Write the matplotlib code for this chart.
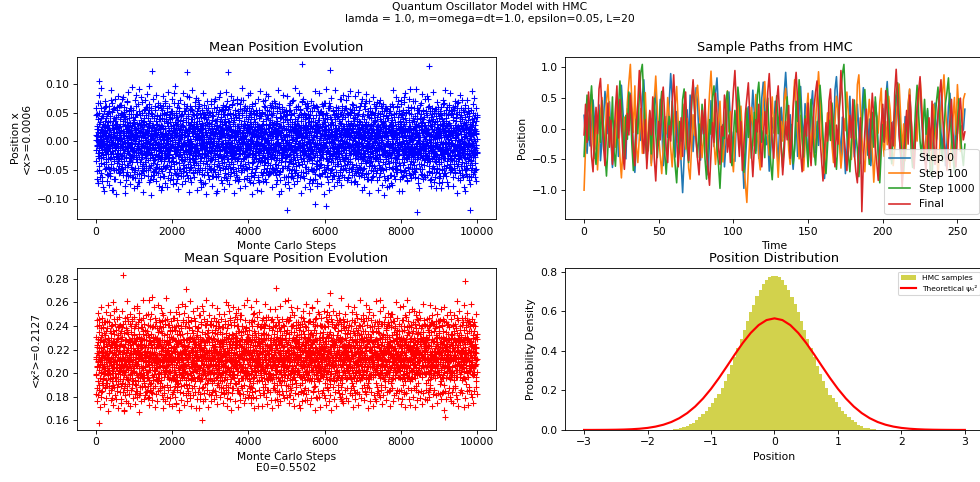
import numpy as np
import matplotlib
matplotlib.use("Agg")
import matplotlib.pyplot as plt

# Mean position per sweep (in units of 1e-3)
MEAN_X = [
    12,-34,45,-8,27,-51,3,66,-19,38,-72,21,-5,49,-28,104,-43,15,-61,33,8,-24,57,-37,2,41,-15,-68,25,-3,
    -18,31,-6,44,-27,9,52,-39,16,-2,27,-48,35,-13,60,-22,4,-35,41,-9,19,-56,28,-15,47,-31,11,-44,23,-1,
    -47,19,62,-11,36,-29,7,-55,44,-21,13,71,-39,28,-6,-83,51,-17,9,35,-46,23,-2,58,-31,16,-64,40,-10,29,
    36,-12,21,-50,8,43,-25,14,-37,55,-4,30,-19,46,-33,2,61,-28,17,-42,25,-8,39,-53,12,-21,50,-30,6,-45,
    5,-38,47,-25,73,-14,31,-52,18,-7,42,-33,60,-20,11,-77,26,-44,39,-1,54,-27,14,-58,34,-12,68,-41,22,-9,
    10,-41,26,-16,53,-34,7,40,-23,15,-58,32,-10,48,-29,20,-3,57,-36,13,-47,29,-14,42,-26,5,-62,34,-18,24,
    37,-16,-49,24,6,-63,43,-30,17,81,-23,48,-36,10,-56,30,-4,65,-45,20,-13,52,-26,1,-70,32,-18,46,-35,15,
    -30,18,-55,37,-7,25,-43,11,49,-20,33,-6,-38,22,-51,40,-12,28,-45,8,56,-24,16,-35,3,45,-17,31,-49,19,
    -22,59,-8,27,-50,40,-32,12,96,-43,25,-15,55,-29,4,-67,36,-11,50,-40,18,-59,29,-6,44,-24,121,-37,9,-53,
    28,-9,41,-32,14,-58,23,-1,54,-27,10,-44,36,-15,21,-52,44,-6,30,-39,12,-23,59,-31,17,-11,38,-46,26,-4,
    21,-14,63,-28,39,-48,13,-3,57,-34,26,-79,41,-19,8,61,-42,23,-10,47,-31,2,-60,35,-17,70,-26,14,-45,38,
    -11,46,-24,5,-40,32,-17,51,-29,8,-63,27,-5,43,-34,18,-21,39,-48,11,33,-14,-42,24,-9,52,-36,15,-27,41,
    -5,52,-33,19,-65,28,-12,45,-39,7,84,-21,33,-54,16,-1,49,-36,24,-71,42,-15,11,-47,30,-8,66,-25,37,-57,
    19,-37,9,-22,58,-13,35,-47,21,-3,44,-31,13,-55,29,-8,48,-26,7,-40,37,-18,26,-60,16,-2,53,-33,20,-14,
    17,-30,53,-6,41,-44,20,-18,62,-27,120,-58,34,-13,47,-38,3,76,-22,28,-50,14,-35,55,-9,23,-63,39,-16,31,
    -44,14,-29,38,-4,55,-20,27,-52,10,-35,45,-16,24,-41,34,-7,62,-30,18,-12,46,-37,8,-25,40,-53,21,-6,30,
    -41,10,58,-24,35,-52,18,-2,64,-33,27,-46,6,50,-28,15,-69,43,-11,32,-56,21,-4,48,-37,12,-74,29,-19,40,
    7,-26,47,-12,23,-45,16,-34,39,-1,58,-23,30,-15,51,-38,12,-28,43,-19,5,-57,32,-9,26,-43,17,-3,50,-32,
    4,-45,30,-15,69,-32,22,-60,37,-7,51,-26,13,-49,44,-20,1,57,-39,26,-12,73,-30,16,-53,36,-3,-88,24,-42,
    -21,39,-14,29,-60,20,-8,47,-33,13,-24,54,-41,6,35,-17,25,-50,9,42,-29,18,-4,56,-37,23,-13,33,-46,11,
    -27,48,-9,33,-61,19,-36,54,-14,7,-48,39,-23,61,-5,28,-42,12,-67,45,-18,35,-1,-56,120,-31,22,-10,59,-38,
    33,-7,-46,21,-19,50,-35,12,-25,41,-10,63,-28,17,-3,-44,30,-16,48,-38,10,-22,37,-54,19,-8,45,-30,26,-15,
    14,-20,43,-51,26,-7,67,-34,18,-45,3,52,-29,37,-13,-64,41,-22,9,56,-40,20,-15,71,-33,6,-50,31,-2,46,
    -5,49,-31,15,-42,26,-11,57,-21,4,-50,36,-18,28,-39,9,53,-26,20,-12,42,-47,14,-2,31,-59,24,-10,38,-23,
    -36,25,-11,58,-44,16,-70,34,-19,49,-8,27,-55,13,42,-26,64,-37,1,-48,30,-12,53,-21,10,-62,38,-30,19,-4,
    25,-16,34,-53,11,-30,46,-8,22,-43,31,-1,50,-34,16,-20,-67,27,-13,40,-28,7,55,-36,21,-15,44,-4,-32,17,
    44,-17,29,-58,8,-33,50,-23,15,-68,36,-6,61,-41,22,-14,47,-35,5,72,-27,17,-52,39,-10,28,-45,55,-20,3,
    -37,23,-3,41,-26,13,-56,30,-15,52,-22,9,-40,37,-11,59,-31,18,-6,46,-45,15,-24,33,-52,10,28,-18,49,-28,
    -49,32,-13,21,-38,66,-24,9,-57,43,-2,30,-46,18,-66,35,-29,52,-8,24,-40,14,60,-32,-91,26,-18,41,-51,11,
    15,-52,27,-10,43,-36,5,-19,56,-29,20,-46,11,34,-24,44,-9,-61,23,-17,51,-33,8,-42,38,-6,-27,54,-14,22,
    -118,37,-25,48,-3,-59,22,-43,31,-12,63,-35,16,-50,27,-7,54,-21,39,-62,11,-30,46,-15,33,-47,2,69,-37,20,
    -26,8,-38,49,-17,31,-49,18,-7,39,-55,24,-32,60,-13,27,-43,6,36,-23,14,-58,42,-11,29,-35,17,-3,46,-40,
    27,-41,13,-24,56,-9,35,-53,19,-31,45,-16,70,-39,8,133,-28,42,-60,15,-11,50,-34,23,-5,64,-44,29,-19,38,
    42,-20,16,-44,28,-4,58,-34,11,-27,47,-14,22,-51,33,-9,41,-30,15,-64,26,-1,53,-22,12,-48,35,-16,24,-37,
    -14,53,-32,7,-66,40,-20,26,-49,12,59,-27,34,-3,-56,21,-108,46,-38,18,-9,62,-43,30,-24,9,-71,37,-13,25,
    -13,37,-57,20,-32,45,-6,26,-41,14,-18,52,-38,9,-26,48,-15,31,-54,19,-8,40,-29,3,61,-44,21,-10,34,-50,
    41,-8,-52,33,17,-112,49,-29,22,-41,6,-60,38,-17,57,-34,13,-46,28,-1,67,-30,19,-54,43,-22,10,124,-36,31,
    22,-3,39,-28,10,-47,33,-21,55,-12,28,-36,4,45,-19,17,-59,38,-7,29,-42,13,-25,50,-16,6,-39,43,-30,9,
    -18,44,-39,24,-7,58,-27,15,-63,35,-12,48,-33,1,-50,30,-19,73,-42,20,-8,55,-26,39,-57,13,-3,46,-31,22,
    -34,26,-12,54,-40,17,-23,42,-5,-49,31,-15,58,-27,10,-38,24,-2,47,-33,20,-61,36,-10,27,-45,12,-20,56,-6,
    9,-35,51,-20,32,-48,16,-4,65,-38,24,-58,41,-10,29,-44,18,-69,36,-15,54,-28,7,-51,42,-21,60,-40,14,-6,
    11,-48,30,-17,39,-8,-53,22,-31,48,-13,35,-44,16,-4,62,-25,13,-46,34,-14,25,-37,7,44,-28,19,-55,31,-21,
    -30,23,-14,47,-45,11,-61,39,-26,6,56,-19,28,-54,34,-9,70,-37,21,-2,45,-32,17,-64,31,-13,52,-25,8,-43,
    -8,43,-25,12,-36,57,-18,29,-50,6,40,-33,20,-11,51,-41,27,-3,-59,22,-26,45,-9,33,-43,14,-30,49,-15,37,
    36,-11,61,-29,4,-50,27,-17,43,-66,19,-34,50,-6,25,-41,12,66,-23,38,-55,15,-30,48,-12,35,-48,22,-1,57,
    30,-22,8,-46,25,-14,44,-35,15,-59,28,-7,53,-24,12,-39,36,-17,58,-30,9,-48,26,-2,40,-20,-63,18,-33,5,
    -25,40,-44,18,-15,53,-37,29,-8,62,-21,11,-57,33,-28,46,-4,-75,37,-19,26,-47,9,59,-36,20,-16,43,-59,14,
    -45,16,-35,33,-9,49,-28,4,-42,24,-20,60,-31,11,-53,31,-6,42,-24,16,-37,53,-13,21,-50,35,-5,27,-41,46,
    31,-53,22,-3,47,-30,10,-62,38,-14,27,-41,55,-24,16,-8,68,-35,23,-49,40,-18,2,-58,34,-11,49,-27,18,-67,
    18,-31,54,-4,21,-44,10,-27,37,-16,50,-39,8,-58,26,-12,47,-34,19,-9,60,-22,33,-47,5,-18,41,-36,14,-26,
    -9,36,-23,58,-40,13,-52,26,-19,44,-5,31,-45,20,-12,-121,39,-31,50,-16,8,-63,29,-26,54,-38,15,-2,41,-48,
    -24,40,-11,27,-56,19,-38,48,-2,33,-28,15,-47,39,-20,54,-15,26,-40,8,-32,43,-19,17,-61,29,-7,52,-23,10,
    24,-12,45,-36,19,-57,33,-7,60,-28,14,-43,130,-20,37,-51,11,-33,52,-10,27,-65,43,-15,5,58,-30,21,-46,35,
    38,-6,-43,17,-25,52,-16,31,-48,9,-33,56,-21,4,-36,44,-27,12,-52,35,-10,25,-45,14,49,-30,23,-12,40,-55,
    -39,17,-26,53,-4,30,-59,22,-14,46,-35,8,-70,39,-21,28,-47,15,64,-29,36,-9,50,-42,19,-18,32,-55,11,-1,
    -17,29,-60,36,-13,41,-34,7,-21,59,-40,18,-5,46,-29,20,-44,32,-8,54,-25,11,-38,28,-14,47,-31,3,-49,24,
    49,-32,12,-47,37,-16,24,-61,43,-8,55,-25,18,-38,61,-13,29,-52,6,41,-34,20,-11,67,-43,25,-6,48,-28,13,
    27,-39,15,-30,51,-7,24,-54,35,-19,43,-11,29,-42,13,-26,57,-18,38,-50,4,-35,21,-13,55,-24,8,-43,32,-10,
    -16,42,-50,28,-2,63,-37,10,-56,34,-21,47,-13,25,-45,16,-30,58,-8,37,-60,22,-27,44,-5,-119,31,-41,19,-33,
    -32,20,-50,11,-19,38,-41,25,-3,49,-27,16,-56,33,-9,40,-23,5,-37,46,-15,29,-62,18,-6,36,-48,13,-20,42,
]

# More sweeps of the same run, the dense core of the cloud (1e-3)
MEAN_X_CORE = [
    3,-14,22,-6,9,-25,17,0,-11,31,-19,5,-2,14,-29,8,20,-9,-1,12,
    -7,18,-23,4,27,-13,-3,10,-18,25,6,-30,15,-5,1,-16,33,-10,7,-21,
    11,-4,24,-17,-8,19,2,-27,13,-1,28,-12,6,-22,16,-6,-34,9,21,-3,
    -15,7,-26,30,-9,3,14,-19,-2,23,-11,8,-31,17,0,26,-14,4,-7,18,
    20,-10,1,-24,12,36,-5,15,-20,6,-13,29,-3,9,-28,21,-8,2,-16,11,
    -1,16,-12,25,-6,-21,8,-33,18,3,-9,14,-25,27,-4,10,-17,32,-11,5,
    8,-23,13,-2,19,-15,4,22,-8,-30,12,-5,24,-19,7,-12,1,28,-14,16,
    -19,2,30,-11,14,-7,-26,10,-3,21,-16,35,-9,6,-22,13,-1,-29,17,-4,
    14,-8,-20,26,1,-13,18,-5,32,-24,9,-2,15,-18,4,23,-10,11,-27,6,
    -5,25,-14,3,-31,20,-9,12,-1,17,-22,7,-6,29,-12,-3,19,-16,8,-25,
    17,-12,5,-19,28,-4,-15,9,-27,13,2,-8,22,-20,10,-33,15,-6,24,-2,
    -9,13,-21,8,-3,34,-17,6,15,-11,-24,19,-5,1,-14,26,-7,12,-29,3,
    6,-28,18,-7,11,-16,24,-1,-12,20,-4,31,-22,9,-9,14,-18,2,27,-13,
    -24,10,-3,21,-18,4,-10,27,7,-32,16,-6,12,-15,25,-2,8,-21,-5,19,
    12,-5,-17,33,-8,15,-26,3,-14,22,-1,10,-30,18,-7,5,-20,29,-10,1,
    -2,21,-11,-4,16,-23,9,-35,25,-8,13,-18,4,-12,30,-6,-25,14,2,-16,
    24,-15,7,-20,3,12,-6,19,-29,10,-2,27,-13,5,-21,17,-9,-1,23,-7,
    -13,4,28,-9,-22,17,-3,11,-16,33,-10,1,20,-25,8,-14,26,-4,12,-18,
    5,-20,15,-1,24,-12,-30,6,18,-7,-17,13,-3,36,-11,9,-23,16,-8,21,
    -16,9,-6,19,-27,1,14,-10,4,-21,26,-14,8,-4,17,-28,11,-2,30,-9,
    19,-3,-25,11,-14,29,-7,2,-19,15,-9,-31,21,-5,13,-1,24,-17,6,-11,
    -8,27,-13,6,-2,-18,22,-24,9,-6,18,-11,33,-15,3,-26,12,7,-20,14,
    2,-17,10,-30,20,-5,13,-9,26,-14,-1,23,-7,16,-22,4,-12,31,-3,8,
    -20,14,-1,17,-11,8,-28,24,-4,11,-16,5,-25,19,-6,28,-15,1,-10,22,
    15,-9,25,-22,5,-14,-4,30,-12,2,21,-19,7,-35,14,-3,18,-8,9,-24,
    -4,22,-16,1,-29,13,7,-6,20,-18,10,-2,27,-12,-23,15,-5,-17,24,4,
    10,-26,4,18,-7,-20,31,-11,-3,14,-28,16,-9,6,21,-14,2,-31,13,-1,
    -12,6,-19,23,-2,16,-13,-25,11,28,-6,-15,3,-21,9,25,-10,17,-4,-27,
    22,-11,13,-4,-17,9,-32,20,-7,5,-23,32,-14,11,-1,-19,16,-6,27,-9,
    -6,17,-28,12,4,-15,19,-3,-21,26,-9,7,-18,24,-12,2,-26,20,-2,13,
    9,-21,2,27,-13,-5,16,-24,12,-1,20,-10,-34,18,-6,11,-15,4,25,-18,
    -17,5,-9,21,-26,14,-3,30,-14,8,-20,1,19,-11,-27,23,-4,13,-8,16,
    13,-2,19,-15,7,-30,25,-8,3,-18,29,-6,-12,15,-22,6,-1,21,-16,10,
    -23,16,-5,8,-12,24,-19,1,33,-9,12,-25,4,-3,18,-14,27,-7,-29,2,
    4,-13,26,-19,-1,11,-8,17,-24,21,-4,9,-16,28,-10,-33,14,-2,20,-12,
    -10,23,-17,3,15,-27,6,-14,10,-5,25,-21,13,-1,-8,31,-18,9,-6,18,
    26,-7,11,-22,-3,19,-12,4,-30,16,-15,22,-2,-19,7,12,-25,29,-11,1,
    -1,12,-24,16,-9,-2,28,-16,7,-12,3,-28,18,-5,24,-20,10,-13,15,-7,
    18,-19,3,-11,23,-6,-21,13,-4,32,-17,8,-9,20,-26,2,-14,26,-3,11,
    -14,1,20,-28,9,-10,15,-1,-23,7,17,-4,-31,13,-7,22,-12,5,-19,29,
    7,-30,14,-8,-17,26,-5,21,-13,3,-22,11,6,-16,27,-9,1,-24,17,-2,
    -22,15,-4,29,-10,6,-18,-1,24,-14,9,-27,19,-3,12,-20,31,-8,4,-15,
    16,-6,-25,10,2,-20,12,-33,18,-7,27,-12,1,22,-17,8,-5,14,-28,20,
    -3,26,-12,5,-21,17,-9,23,-2,-16,11,-6,30,-19,4,-11,16,-24,9,-1,
    21,-14,8,-27,13,-3,-15,6,29,-10,-2,18,-21,10,-31,25,-7,3,-13,15,
    -11,3,-22,18,-5,33,-14,9,-19,12,-8,24,-4,-26,16,-2,11,-18,22,-6,
    1,-18,27,-10,-4,14,-23,16,-7,-29,21,-12,5,17,-15,28,-3,8,-20,12,
    -26,11,-2,15,-14,20,-6,-31,13,4,-10,26,-17,7,-1,-21,19,-9,34,-5,
    14,-4,22,-16,8,-24,1,18,-11,-3,30,-20,12,-7,23,-13,-28,6,-2,17,
    -9,19,-7,-21,26,-1,12,-15,3,24,-19,5,-27,16,-10,9,-4,21,-14,2,
    23,-16,6,10,-30,15,-8,27,-5,-13,17,-2,-22,11,3,-18,25,-11,7,-26,
    -5,8,-19,32,-12,-4,21,-9,14,-25,1,20,-13,-6,28,-16,5,-30,18,-3,
    10,-25,16,-3,-8,22,-17,2,-28,12,-11,29,-1,9,-20,13,-6,-15,26,-10,
    -18,4,-13,20,-27,7,34,-10,-2,17,-21,-7,15,-24,6,-1,22,-12,11,-31,
    6,-10,29,-17,12,-1,-24,14,-9,21,-5,-16,26,-3,-19,18,-28,7,-4,23,
    -28,17,-3,9,-15,26,-11,5,-20,31,-7,13,-1,-23,10,-14,24,-5,16,-8,
    12,-2,-18,24,-6,11,-29,19,-14,2,16,-23,8,-10,35,-4,-17,12,-21,3,
    -7,21,-15,1,-25,18,-4,-12,27,-8,4,-19,22,-15,-2,29,-9,-26,13,-1,
    19,-13,9,-29,16,-5,23,-20,6,-10,-33,17,-3,14,-16,2,-24,10,-6,27,
    -15,5,-26,13,-8,28,-2,-17,11,-22,19,-9,1,-27,21,-6,15,-11,4,-18,
]

# More sweeps, the outer shoulders of the cloud (1e-3)
MEAN_X_WIDE = [
    58,-64,47,-72,81,-49,66,-55,92,-61,44,-78,53,-86,70,-46,61,-68,49,-57,
    -75,52,-60,88,-45,67,-83,56,-50,74,-65,43,-91,59,-48,79,-54,63,-70,45,
    63,-47,76,-58,51,-89,44,-66,69,-52,85,-60,48,-73,57,-44,94,-62,55,-80,
    -53,71,-46,62,-77,48,-69,90,-56,45,-63,77,-49,68,-87,54,-58,72,-43,60,
    82,-59,50,-70,64,-45,58,-93,47,-64,73,-51,62,-47,80,-68,45,-55,67,-76,
    -62,46,-84,55,-51,78,-60,49,-72,66,-44,57,-79,86,-53,61,-66,48,-58,74,
    49,-73,67,-48,95,-56,43,-65,60,-82,52,-47,71,-59,46,-74,83,-51,64,-45,
    -68,57,-52,79,-63,44,-87,61,-46,56,-70,89,-54,47,-61,68,-49,75,-84,53,
    72,-45,61,-66,48,-78,55,-50,84,-58,63,-72,45,-90,69,-53,57,-64,50,-47,
    -50,65,-77,46,-59,70,-48,73,-62,51,-85,60,-56,76,-44,83,-67,52,-71,63,
    60,-82,48,-54,86,-63,69,-45,56,-74,47,-60,79,-52,65,-48,72,-88,54,-66,
    -57,74,-61,50,-68,45,-80,64,-53,92,-49,71,-65,55,-76,61,-45,58,-63,81,
    45,-67,83,-59,53,-91,62,-72,48,-57,66,-46,54,-83,73,-61,50,-69,87,-52,
    -86,51,-55,69,-47,60,-64,82,-70,46,-58,78,-51,63,-54,47,-79,66,-48,57,
    70,-53,62,-73,57,-49,88,-56,64,-67,50,-85,60,-45,81,-62,53,-74,46,-61,
    -46,78,-69,52,-81,66,-54,47,-59,71,-63,49,-74,93,-50,56,-68,61,-57,84,
    54,-61,47,-88,68,-52,74,-63,45,-79,58,-55,67,-48,62,-71,46,-82,70,-50,
    -72,63,-50,57,-65,87,-47,59,-76,53,-46,84,-60,51,-73,64,-56,48,-90,67,
    66,-48,91,-62,46,-70,57,-84,61,-50,75,-64,52,-58,47,-77,89,-53,59,-69,
    -59,55,-66,74,-53,48,-75,62,-47,80,-61,58,-45,72,-66,50,-63,79,-52,46,
    87,-70,54,-47,63,-58,49,-68,78,-55,45,-73,86,-60,55,-49,67,-57,73,-84,
    -48,61,-79,66,-56,82,-64,45,-54,69,-88,52,-67,48,-62,77,-51,65,-46,58,
    57,-54,68,-83,50,-61,71,-46,62,-75,53,-49,64,-92,58,-66,45,-78,56,-63,
    -77,49,-58,53,-72,64,-45,88,-60,47,-65,76,-53,61,-47,70,-85,50,-64,72,
    64,-85,45,-60,76,-51,83,-57,51,-68,60,-45,73,-55,90,-63,58,-48,69,-56,
    -51,70,-62,91,-46,57,-71,54,-80,63,-48,67,-58,82,-64,52,-57,74,-62,49,
    79,-57,73,-52,61,-66,53,-76,47,-54,86,-69,50,-62,56,-81,68,-47,60,-71,
    -63,47,-81,60,-49,72,-59,66,-55,89,-45,54,-70,48,-77,63,-52,84,-46,55,
    52,-76,59,-45,70,-54,47,-88,57,-63,68,-50,80,-67,45,-58,72,-61,51,-79,
    -85,58,-48,71,-60,52,-67,49,-73,55,-62,87,-46,64,-53,75,-49,57,-68,46,
]

# Mean square position per sweep (in units of 1e-3), bottom-left cloud
MEAN_X2 = [
    214,198,231,205,222,187,240,209,193,226,217,181,235,158,219,246,190,211,228,196,207,238,184,221,213,200,232,192,215,243,
    211,196,227,205,218,190,234,208,222,199,215,243,187,229,202,217,236,194,212,225,200,238,206,219,192,230,213,203,226,209,
    203,226,189,217,236,195,210,249,199,224,186,212,230,204,241,193,218,179,227,208,236,197,214,253,188,222,205,233,196,211,
    197,224,208,237,193,216,204,229,188,221,210,246,199,214,232,191,219,207,240,202,223,195,212,234,205,218,189,227,211,236,
    229,192,216,201,239,184,223,206,283,213,168,234,198,220,187,244,207,225,191,211,228,176,218,203,237,195,214,248,189,226,
    220,203,233,195,214,227,191,209,242,206,217,198,228,212,186,235,204,221,196,230,208,244,200,216,225,193,211,238,202,219,
    206,233,194,219,182,227,212,242,200,216,190,229,208,255,185,221,197,238,210,193,224,204,231,181,217,246,199,214,227,188,
    206,230,199,215,239,204,222,189,213,228,196,233,210,203,247,198,216,229,192,211,237,205,219,188,224,215,201,232,209,197,
    219,201,236,189,213,250,196,222,207,180,231,215,194,227,203,240,186,218,209,233,192,224,265,205,217,183,239,211,197,228,
    231,194,218,207,225,199,212,240,203,216,189,229,205,221,197,214,238,209,226,193,210,235,199,223,212,245,196,217,206,228,
    192,225,209,243,186,215,201,236,219,194,228,207,251,189,222,203,214,178,239,197,226,210,188,232,216,245,199,221,204,213,
    202,225,210,233,190,219,206,228,215,197,241,208,220,195,231,211,202,226,188,236,214,200,222,209,194,231,217,205,239,212,
    236,208,195,221,184,230,212,198,247,205,223,189,214,237,201,219,174,227,193,240,209,218,186,233,197,225,211,256,192,216,
    216,199,236,211,203,226,194,218,232,206,212,189,225,238,200,217,223,196,214,229,205,211,243,198,220,207,190,228,214,201,
    202,240,219,191,228,206,271,213,187,234,199,222,209,183,243,215,196,226,204,238,190,217,231,200,214,181,229,206,245,195,
    194,221,205,218,237,196,227,210,201,234,219,205,197,213,229,208,244,193,222,207,216,231,202,225,213,196,220,236,207,218,
    225,197,213,238,205,187,224,200,249,216,193,231,178,220,207,242,195,227,211,160,235,203,219,188,228,214,199,253,208,221,
    227,208,216,191,224,213,202,241,207,220,196,228,214,234,205,192,218,229,210,200,237,194,215,206,230,219,201,212,242,195,
    196,230,208,217,181,241,203,226,192,214,235,199,222,186,210,247,201,229,194,218,206,237,185,223,213,196,244,207,219,190,
    203,233,212,227,199,216,238,204,192,225,210,217,240,201,222,213,197,235,206,219,188,226,211,233,200,214,228,193,219,208,
    223,205,239,194,216,183,228,210,197,242,206,219,190,234,215,201,226,179,238,211,195,230,204,258,188,217,232,199,212,225,
    218,201,225,210,245,192,213,229,217,204,233,198,209,224,187,230,215,202,227,211,196,241,207,218,224,205,192,231,214,226,
    209,234,191,221,204,246,198,215,230,186,213,240,202,224,193,219,236,207,182,228,214,201,249,189,222,206,235,196,217,240,
    205,229,196,219,208,236,203,215,226,190,220,211,236,196,218,205,229,213,199,238,219,202,228,196,211,233,208,217,200,222,
    231,198,215,189,237,206,220,193,228,211,175,243,204,226,199,232,187,218,209,245,192,224,213,180,236,203,219,197,251,210,
    226,210,234,201,217,198,231,207,213,240,205,224,193,215,234,202,211,227,217,194,208,226,214,239,202,219,225,198,232,206,
    200,227,212,245,193,218,205,234,188,221,209,238,196,214,229,183,241,202,225,191,216,207,233,199,212,248,186,223,204,219,
    199,217,208,230,194,222,212,238,200,216,228,195,221,207,199,245,220,204,230,214,237,195,221,206,228,210,197,239,207,215,
    218,192,233,207,224,186,240,211,197,229,203,272,214,190,236,205,221,178,243,209,196,227,212,185,238,201,217,230,193,226,
    213,236,203,214,228,206,190,224,232,209,197,219,241,210,222,214,193,236,208,201,223,211,198,230,217,204,234,213,190,228,
    205,237,196,220,211,244,189,226,202,215,233,181,219,207,248,194,224,210,187,235,200,222,214,256,191,228,203,240,197,217,
    230,203,221,197,211,235,218,201,215,227,212,204,223,192,238,207,226,215,199,232,209,218,243,201,214,226,203,221,237,199,
    229,201,216,190,239,208,223,184,231,214,197,242,206,225,192,218,236,199,211,247,186,221,205,233,209,194,230,213,177,224,
    209,224,214,239,202,217,227,195,206,231,220,237,198,216,205,229,211,201,244,218,196,228,209,221,193,234,216,207,225,212,
    196,232,211,226,185,219,242,203,215,193,237,209,222,189,246,206,217,234,198,212,180,228,207,241,195,220,213,252,202,218,
    196,215,230,208,221,193,205,234,219,212,200,223,214,240,209,198,231,222,206,213,235,203,220,216,231,199,211,240,202,220,
    221,204,239,192,214,230,197,225,208,244,188,216,233,201,219,186,240,210,227,195,213,249,204,222,191,235,268,199,217,230,
    222,207,199,225,214,243,211,208,226,196,232,214,205,193,227,219,206,238,214,200,224,211,194,229,207,241,222,196,217,232,
    203,228,190,218,236,207,213,183,245,220,198,231,211,194,226,242,188,216,205,237,197,223,210,176,229,214,201,246,208,219,
    212,238,217,203,230,200,223,216,198,228,207,195,239,221,212,204,233,196,225,218,202,237,215,208,226,213,200,224,210,197,
    234,210,197,223,187,240,215,204,229,192,218,252,200,213,236,189,224,207,243,196,221,209,183,232,216,198,238,205,226,193,
    201,219,208,234,196,227,214,202,237,210,222,216,203,226,198,240,217,209,221,194,229,206,233,212,219,196,230,215,203,236,
    211,226,244,199,217,190,228,213,203,236,185,222,208,247,195,219,231,202,214,188,241,206,225,197,233,211,192,227,209,254,
    227,195,222,213,205,239,198,220,211,231,197,228,220,209,236,214,201,226,197,235,211,223,204,217,240,208,214,227,199,218,
    198,236,206,229,192,217,204,243,211,188,225,214,199,238,207,222,181,234,215,196,229,262,203,219,190,242,212,200,224,207,
    208,226,214,200,232,216,208,233,195,218,242,205,212,198,219,229,211,193,237,208,217,200,238,221,199,232,206,221,243,203,
    225,193,219,209,241,197,231,186,214,226,203,239,192,217,250,205,223,195,232,210,187,228,216,201,244,198,221,207,235,213,
    219,203,238,221,198,209,227,214,229,201,215,233,207,237,202,218,225,206,212,229,197,236,214,203,225,211,224,196,213,230,
    207,240,212,195,223,205,236,219,190,230,211,198,245,208,221,184,237,202,226,215,193,249,206,218,229,200,213,239,196,222,
    200,232,211,197,224,235,212,197,221,240,204,219,226,193,229,210,196,239,221,203,230,209,197,234,216,204,236,218,208,221,
    230,201,224,213,187,242,209,228,196,219,238,205,215,189,233,221,198,246,210,203,227,192,220,235,207,214,252,199,218,225,
    233,211,199,229,215,204,238,223,207,213,228,200,218,231,214,206,235,219,201,226,212,242,220,207,213,227,199,231,222,205,
    192,221,240,206,218,229,194,213,237,201,224,186,247,210,199,232,216,205,241,190,223,211,235,197,226,208,219,243,204,214,
    214,198,226,209,242,219,200,212,236,205,221,238,196,211,223,240,207,213,230,198,225,204,231,212,244,201,218,209,236,219,
    217,234,199,226,208,191,245,212,203,230,218,193,225,240,206,214,183,236,220,198,231,209,244,201,215,227,190,163,222,211,
    207,235,213,222,196,228,216,241,202,225,209,214,233,204,218,197,229,211,206,239,215,202,223,210,195,233,214,226,201,212,
    224,205,232,198,241,213,187,226,210,236,200,219,249,194,228,207,222,215,189,238,203,226,212,247,197,218,234,206,213,229,
    224,209,230,203,218,207,232,199,227,214,237,206,220,212,201,231,216,227,194,217,241,213,205,228,220,208,196,237,214,226,
    209,231,216,278,195,222,239,204,218,191,245,211,226,200,234,217,197,228,213,243,206,220,188,236,210,225,202,242,215,219,
    215,227,204,236,211,199,224,213,208,230,198,222,241,219,206,214,236,201,222,207,213,229,217,193,231,217,208,222,233,201,
]

# More sweeps, dense core of the <x^2> cloud (1e-3)
MEAN_X2_CORE = [
    212,199,224,206,217,193,229,210,203,221,214,196,226,208,219,201,231,211,205,218,
    207,222,195,215,227,204,213,232,200,218,209,225,192,216,223,206,214,198,230,211,
    219,203,228,210,196,221,207,234,213,200,217,225,202,212,190,227,209,220,205,216,
    200,215,226,197,220,211,205,223,193,216,230,208,219,203,224,213,199,229,210,204,
    225,208,213,231,202,218,195,210,222,206,214,201,228,197,217,208,235,205,220,212,
    210,194,221,215,206,229,212,199,224,217,203,212,191,226,209,221,204,214,232,201,
    204,227,209,191,218,207,225,214,198,230,206,220,215,210,200,233,213,196,218,223,
    221,212,200,225,213,197,216,236,205,211,224,193,218,222,206,214,228,209,201,215,
    196,219,232,208,201,224,210,203,227,214,191,217,209,225,216,198,221,207,230,213,
    215,205,218,226,210,202,231,215,209,195,222,230,204,213,227,209,193,224,211,200,
    228,211,206,199,223,216,194,221,212,234,205,210,220,199,214,226,212,203,218,206,
    203,218,227,212,197,209,224,207,219,201,216,226,211,237,202,213,221,210,196,229,
    217,196,213,230,211,221,203,228,194,218,212,207,199,222,225,191,216,228,213,204,
    209,226,201,217,233,205,214,198,226,211,203,233,217,208,211,219,205,197,224,216,
    222,207,219,194,215,228,200,212,217,223,208,196,229,214,204,230,200,215,209,220,
    198,214,230,209,202,219,211,225,206,189,226,215,203,219,210,207,224,213,232,202,
    213,229,205,221,213,196,227,204,221,214,198,222,210,195,228,216,203,220,207,218,
    226,202,216,233,198,210,218,212,200,227,217,205,231,212,220,201,213,226,196,210,
    207,220,211,201,224,215,193,230,214,206,222,213,200,225,207,219,234,208,217,204,
    219,212,197,215,209,228,206,219,203,217,194,227,214,208,198,223,211,194,227,215,
    201,225,219,207,229,202,214,197,231,210,216,203,221,212,229,205,218,215,203,221,
    214,198,227,212,195,220,209,225,211,222,206,232,197,217,210,199,226,211,222,208,
    230,210,204,224,216,207,236,214,193,209,227,214,208,225,202,216,205,232,213,196,
    205,223,212,196,219,213,200,221,217,204,219,198,225,201,218,227,211,200,219,225,
    211,216,195,229,207,222,212,188,226,215,202,228,213,220,196,212,229,217,206,213,
    223,204,220,211,198,231,205,217,210,229,213,207,194,216,223,209,202,221,230,203,
    197,221,209,226,214,203,219,228,202,214,233,220,211,205,212,230,215,207,195,224,
    216,211,232,200,221,212,197,209,223,207,196,216,225,213,204,221,198,214,226,209,
    208,228,206,218,203,225,214,221,199,231,212,202,218,227,208,193,224,210,217,201,
    220,199,215,224,211,194,229,207,215,203,222,213,205,199,230,217,211,226,204,217,
    213,206,225,198,217,220,209,215,230,212,199,224,212,216,203,220,206,195,228,214,
    204,230,212,209,227,201,216,194,213,222,207,231,218,202,226,214,222,209,213,198,
    225,214,197,220,206,233,211,219,204,196,218,207,226,210,197,208,231,219,201,224,
    199,218,226,213,202,215,224,208,228,215,211,194,220,233,214,222,203,212,225,210,
    218,203,211,232,219,199,207,227,211,205,229,214,203,212,221,201,217,228,207,195,
    210,225,204,215,196,228,217,203,220,198,214,222,209,197,226,213,231,204,216,223,
    227,212,220,201,223,213,195,218,207,231,201,216,233,219,208,217,194,222,211,206,
    202,217,213,228,209,206,222,213,196,219,224,210,200,224,215,202,226,213,198,219,
    216,197,229,210,215,222,201,230,214,208,196,227,215,207,192,229,210,218,223,212,
    209,224,202,219,234,211,214,204,222,213,218,203,221,212,219,208,214,200,231,205,
    221,206,218,195,212,203,228,215,200,226,210,234,205,216,227,200,222,209,203,217,
    207,229,210,224,216,219,207,197,232,212,201,219,213,224,196,218,215,228,208,201,
    226,212,198,213,205,230,215,221,209,197,223,211,227,202,214,233,205,196,220,213,
    198,220,231,206,222,213,199,214,226,217,205,226,208,215,222,209,217,214,203,228,
    214,203,217,228,201,216,225,208,211,235,214,198,221,230,206,213,224,207,219,210,
    203,231,208,215,220,197,212,223,217,205,220,229,210,201,218,226,200,231,212,216,
    222,209,224,201,214,227,204,216,192,222,215,207,232,213,209,196,220,214,227,204,
    212,196,211,233,208,219,230,205,225,213,203,216,197,223,231,212,227,202,209,221,
    229,215,204,217,226,210,213,199,218,228,196,224,212,206,214,204,218,225,211,197,
    205,222,220,209,197,234,201,227,212,207,223,213,219,229,202,221,195,213,226,215,
    218,207,199,226,213,208,222,216,203,219,230,200,225,210,217,234,210,204,218,211,
    200,226,215,204,230,216,197,211,227,214,206,221,213,201,225,209,221,216,199,230,
    224,213,228,211,202,221,209,235,200,223,211,195,218,226,207,215,203,229,214,206,
    211,198,207,219,216,227,214,202,218,209,232,216,204,219,212,226,218,208,223,201,
    231,216,222,197,209,204,226,213,221,197,215,227,211,196,229,205,214,224,207,219,
    206,223,212,230,205,220,200,219,209,228,203,212,223,215,200,218,230,211,197,213,
    219,202,233,214,221,211,229,198,215,212,224,206,197,227,214,222,208,203,220,226,
    213,226,208,203,227,197,217,224,206,232,210,219,214,205,221,210,196,228,216,209,
    202,211,220,225,212,214,207,230,212,201,217,229,220,210,203,227,215,218,204,223,
    226,209,215,207,223,209,232,204,218,222,199,214,206,225,218,211,221,197,229,212,
]

# More sweeps, outer shoulders of the <x^2> cloud (1e-3)
MEAN_X2_WIDE = [
    182,245,176,251,186,241,171,256,180,247,185,239,174,243,188,252,179,244,168,258,
    243,183,249,177,240,187,260,173,246,181,242,178,254,185,239,170,248,184,241,175,
    178,253,184,242,169,247,181,238,186,261,175,244,182,250,172,240,187,246,179,255,
    248,174,240,185,257,180,243,167,251,183,245,176,239,188,262,178,242,181,249,184,
    185,241,179,262,173,246,184,250,177,240,187,256,171,247,182,243,176,258,185,238,
    240,187,255,181,244,170,249,183,242,176,264,180,246,186,241,174,252,179,244,182,
    172,247,186,239,180,252,175,245,188,241,169,250,184,240,177,259,183,245,173,251,
    257,181,243,176,248,185,239,179,261,172,244,187,253,181,247,184,240,170,255,178,
    184,239,170,249,182,243,187,257,176,246,183,241,178,262,186,244,171,249,182,242,
    244,176,258,184,241,178,247,185,240,181,255,174,243,188,250,180,246,184,239,187,
    175,250,182,244,186,260,172,242,184,253,178,247,169,241,183,256,187,243,176,248,
    251,186,240,171,254,183,246,177,249,187,240,182,258,175,245,179,239,185,262,180,
    181,243,187,256,179,240,184,250,170,244,185,261,179,248,172,242,186,252,181,240,
    239,172,247,183,242,188,259,180,245,174,248,186,240,184,254,177,246,170,243,187,
    187,254,177,241,184,248,173,243,182,257,176,239,185,246,181,240,179,261,185,244,
    246,180,262,175,245,181,240,186,252,178,241,172,249,183,243,188,255,182,241,173,
    170,242,185,248,176,253,183,244,187,240,182,259,177,243,186,251,174,244,179,256,
    255,184,243,188,240,169,247,179,261,185,250,180,241,171,247,183,240,186,253,181,
    179,248,173,252,187,243,176,258,181,246,169,242,188,253,178,239,184,249,172,245,
    242,186,251,180,245,178,264,182,240,175,243,186,250,179,244,187,257,176,241,183,
    183,240,181,245,171,256,186,243,178,250,184,247,173,241,182,262,179,246,187,240,
    249,177,244,184,258,182,241,170,247,187,252,176,245,184,240,172,249,181,243,178,
    176,261,183,240,185,244,180,253,186,242,174,256,181,243,188,248,177,240,184,251,
    241,185,248,172,243,187,250,176,244,181,240,183,260,186,247,179,242,185,256,174,
    186,245,178,257,182,240,171,248,183,262,187,244,178,252,173,241,186,254,180,243,
    253,171,242,186,249,177,245,184,241,179,247,185,240,174,259,183,245,178,241,186,
    177,246,184,240,180,258,187,243,172,249,182,242,186,255,181,244,175,250,183,239,
    244,182,254,178,241,184,246,169,256,185,243,178,249,183,242,187,252,180,246,176,
    184,240,175,249,187,242,181,261,178,245,172,253,184,240,186,247,183,243,171,258,
    247,179,241,185,251,173,244,186,240,182,259,180,246,175,243,185,240,188,250,182,
]

# Sample paths (in units of 1e-2), 256 time slices each
PATH_STEP0 = [
    22,-15,-40,5,-28,18,47,12,-33,-6,39,-52,-20,14,61,35,-8,44,-17,-63,-31,2,26,-45,9,71,28,-12,-49,33,-3,58,
    17,-38,-71,-24,40,6,-19,52,80,23,-41,-9,15,-56,-30,37,64,-4,-27,48,11,-60,-35,20,-14,43,90,51,-7,-46,28,-22,
    9,-58,-104,-47,-12,31,-26,55,19,-37,3,67,42,-18,-51,24,-9,38,-33,-75,-20,46,13,-29,58,83,30,-16,-42,7,-62,-25,
    34,60,11,-31,-5,-53,21,47,-15,29,-40,-97,-55,-8,36,-22,15,63,27,-36,4,-48,-18,50,76,32,-26,-11,-69,-34,18,-3,
    45,-20,-59,8,35,-14,57,92,48,-10,23,-37,-66,-29,16,-45,30,69,14,-23,41,-8,-52,-17,35,62,-6,-39,12,-27,49,21,
    -33,-81,-44,5,27,-12,38,-30,63,85,37,-9,-48,19,-21,-73,-35,10,53,-14,29,-46,-18,40,-2,-56,24,67,31,-11,-43,16,
    -60,-25,9,44,18,-36,-62,2,33,-20,48,77,25,-15,-49,12,-28,55,36,-9,-40,-88,-42,20,-6,37,64,15,-31,-55,-12,26,
    53,71,19,-24,-47,-13,30,-40,-73,-28,8,42,-17,21,56,-5,-38,11,-60,-22,36,58,13,-26,-50,24,-8,40,-19,5,-2,32,
]
PATH_STEP100 = [
    -100,-30,34,-12,18,56,-25,-48,10,-67,-20,28,51,-7,-39,45,72,21,-18,-52,13,-30,47,8,-44,-80,-33,19,-9,44,76,105,
    42,-6,70,-28,-55,-14,33,-40,21,59,-3,-36,25,-60,-19,48,86,35,-12,-44,-73,-27,16,-8,51,20,-31,-62,-18,39,69,12,
    -21,-50,6,40,-33,17,-64,-82,-29,23,-11,54,71,33,-2,-47,-16,29,-38,12,57,94,40,-20,-58,-26,8,45,-13,-54,-24,31,
    62,-5,28,-41,-70,-19,15,49,-22,37,-8,-57,-90,-120,-61,-14,35,7,-28,56,18,-45,-67,-12,41,77,29,-16,-43,10,52,-7,
    24,-36,-79,-31,12,-20,45,66,14,-33,-58,-4,38,80,36,-10,-49,22,-15,-68,-26,30,58,-1,-35,19,-46,11,55,93,47,-6,
    -40,-72,-18,26,-9,44,-27,-55,9,53,30,-21,-64,-37,17,-3,60,25,-29,-50,4,39,-16,72,88,34,-12,-47,-70,-23,14,48,
    6,-35,-87,-40,21,-7,43,66,-18,-45,12,-26,53,30,-14,-60,-33,15,47,73,20,-38,8,-52,-15,41,65,19,-28,-53,2,-20,
    37,82,45,-11,-49,-22,18,-35,-70,-15,40,9,-30,-77,-41,27,58,88,35,-5,-44,-63,-20,16,51,-10,72,30,-37,-12,48,57,
]
PATH_STEP1000 = [
    -45,10,55,-18,38,70,24,-35,-58,-9,30,-22,46,5,-40,-77,-28,19,-11,52,-36,-61,-14,33,78,41,-6,-49,22,-17,60,35,
    -25,-68,-32,16,-8,57,92,105,48,-15,-52,-20,28,-41,14,50,-6,-47,-13,36,61,9,-38,-74,-30,20,-10,45,-24,-60,-88,-37,
    12,-20,48,65,21,-33,-55,-4,37,76,29,-19,-47,8,-27,40,12,-50,-82,-35,15,-9,52,70,18,-30,-58,-97,-44,6,-16,47,
    61,15,-37,-60,-12,30,-5,68,43,-10,-44,-71,-25,34,-14,22,-48,-19,27,-40,55,76,31,-22,-3,-47,28,50,-11,-56,-83,-30,
    24,54,-8,33,-29,-63,-20,19,52,-6,-38,7,-57,-32,45,12,80,43,-15,-46,21,-24,-62,9,48,-4,-35,-59,-17,26,71,38,
    -12,-50,-73,-28,14,-19,42,8,-40,-66,-22,36,61,90,105,49,-10,-43,-70,-24,20,47,-8,-33,-78,-45,2,38,64,21,-26,-58,
    -14,27,-30,52,18,-45,-88,-36,7,-21,40,66,19,-28,-57,-6,31,58,75,22,-16,-50,-72,-29,15,-12,44,-37,-63,-18,35,71,
    26,-20,-47,5,48,-9,33,-40,-69,-80,-25,12,45,68,20,-31,-53,-3,41,60,83,30,-14,-45,-71,-22,9,49,-7,-39,-60,-25,
]
PATH_FINAL = [
    -10,40,-22,60,18,-45,-70,-12,35,-8,65,82,30,-28,-60,-5,42,-30,14,-58,-20,33,70,-15,48,10,-42,-66,-21,25,-10,55,
    22,-35,-60,8,42,95,48,-12,-40,15,-65,-25,30,-10,52,-48,-85,-30,12,-18,45,68,20,-32,-55,5,-20,40,88,36,-14,-62,
    -28,18,-45,35,60,-5,-52,-20,46,80,32,-16,-50,-75,-24,30,-8,48,-38,-65,-92,-40,10,-22,58,25,-30,-58,4,-12,55,28,
    -38,-10,-55,22,62,95,40,-8,-45,12,-68,-28,25,50,75,20,-35,-78,-30,15,-5,40,-25,-62,-15,28,-8,60,90,38,-20,-48,
    5,46,70,18,-30,-75,-40,12,-18,38,-48,-20,32,68,92,45,-2,-40,-70,-22,16,-12,42,-28,-60,-10,35,60,78,24,-15,-50,
    -85,-35,10,-20,45,65,15,-30,-62,6,-25,40,95,50,-8,-38,-68,-18,22,-15,48,-40,-70,-88,-30,18,-135,-55,-5,32,-20,-48,
    12,58,20,-30,-56,-84,-36,8,40,-22,62,25,-18,-50,10,-28,58,97,48,-10,-42,-95,-50,-6,30,-25,55,15,-40,-65,-12,36,
    60,85,30,-15,-48,-70,-22,18,-35,45,-12,-58,-25,24,55,80,28,-20,-42,-68,-18,15,48,-5,-40,-62,-8,25,50,12,-18,-5,
]

# Histogram of sampled positions: bins of width 0.05 from -1.6 to 1.6
HIST_LEFT_EDGE = -1.6
HIST_BIN_WIDTH = 0.05
HIST_DENSITY = [
    0.003,0.006,0.009,0.013,0.021,0.029,0.037,0.051,0.063,0.081,0.096,0.118,0.137,0.161,0.181,0.212,
    0.247,0.283,0.326,0.369,0.412,0.460,0.507,0.550,0.596,0.634,0.675,0.707,0.736,0.756,0.773,0.780,
    0.778,0.771,0.758,0.733,0.709,0.673,0.637,0.594,0.552,0.504,0.458,0.414,0.367,0.324,0.285,0.245,
    0.210,0.178,0.159,0.139,0.116,0.098,0.079,0.065,0.049,0.039,0.027,0.020,0.012,0.008,0.005,0.003,
]

# Theoretical ground state density |psi0|^2 sampled at x = -3..3 step 0.125
THEORY_X_MIN, THEORY_X_MAX = -3.0, 3.0
THEORY_DENSITY = [
    0.0001,0.0001,0.0003,0.0006,0.0011,0.0020,0.0036,0.0062,0.0103,0.0168,0.0264,0.0402,
    0.0595,0.0852,0.1183,0.1592,0.2076,0.2624,0.3215,0.3817,0.4394,0.4902,0.5300,0.5555,
    0.5642,
    0.5555,0.5300,0.4902,0.4394,0.3817,0.3215,0.2624,0.2076,0.1592,0.1183,0.0852,0.0595,
    0.0402,0.0264,0.0168,0.0103,0.0062,0.0036,0.0020,0.0011,0.0006,0.0003,0.0001,0.0001,
]


def scatter_series(ax, values_list, fmt):
    # ogni lista copre tutti i 10000 passi Monte Carlo
    for vals in values_list:
        v = np.array(vals) / 1000.0
        ax.plot(np.linspace(0, 9999, len(v)), v, fmt)


def main():
    # la figura originale e' piu' piccola in scala: dpi 77
    fig, axes = plt.subplots(2, 2, figsize=(980 / 77, 482 / 77), dpi=77)
    fig.suptitle("Quantum Oscillator Model with HMC\n"
                 "lamda = 1.0, m=omega=dt=1.0, epsilon=0.05, L=20", fontsize=10, y=0.995)

    # === media posizione ===
    ax = axes[0, 0]
    scatter_series(ax, [MEAN_X_WIDE, MEAN_X, MEAN_X_CORE], "b+")
    ax.set_title("Mean Position Evolution")
    ax.set_xlabel("Monte Carlo Steps")
    ax.set_ylabel("Position x\n<x>=0.0006")

    # === cammini campione ===
    ax = axes[0, 1]
    paths = {"Step 0": PATH_STEP0, "Step 100": PATH_STEP100,
             "Step 1000": PATH_STEP1000, "Final": PATH_FINAL}
    for name, vals in paths.items():
        y = np.array(vals) / 100.0
        ax.plot(np.arange(len(y)), y, label=name)
    ax.set_title("Sample Paths from HMC")
    ax.set_xlabel("Time")
    ax.set_ylabel("Position")
    ax.legend(loc="lower right")

    # === media quadrato posizione ===
    ax = axes[1, 0]
    scatter_series(ax, [MEAN_X2_WIDE, MEAN_X2, MEAN_X2_CORE], "r+")
    ax.set_title("Mean Square Position Evolution")
    ax.set_xlabel("Monte Carlo Steps\nE0=0.5502")
    ax.set_ylabel("<x²>=0.2127")

    # === distribuzione ===
    ax = axes[1, 1]
    centers = HIST_LEFT_EDGE + HIST_BIN_WIDTH * (np.arange(len(HIST_DENSITY)) + 0.5)
    bars = ax.bar(centers, HIST_DENSITY, width=HIST_BIN_WIDTH, color="y", alpha=0.7,
                  label="HMC samples")
    xt = np.linspace(THEORY_X_MIN, THEORY_X_MAX, len(THEORY_DENSITY))
    line, = ax.plot(xt, THEORY_DENSITY, "r-", lw=2, label="Theoretical ψ₀²")
    ax.set_title("Position Distribution")
    ax.set_xlabel("Position")
    ax.set_ylabel("Probability Density")
    ax.legend(handles=[bars, line], loc="upper right", fontsize=7)

    fig.subplots_adjust(left=0.0786, right=1.004, bottom=0.108, top=0.8817,
                        wspace=0.165, hspace=0.302)
    fig.savefig("out.png", dpi=77)


if __name__ == "__main__":
    main()
